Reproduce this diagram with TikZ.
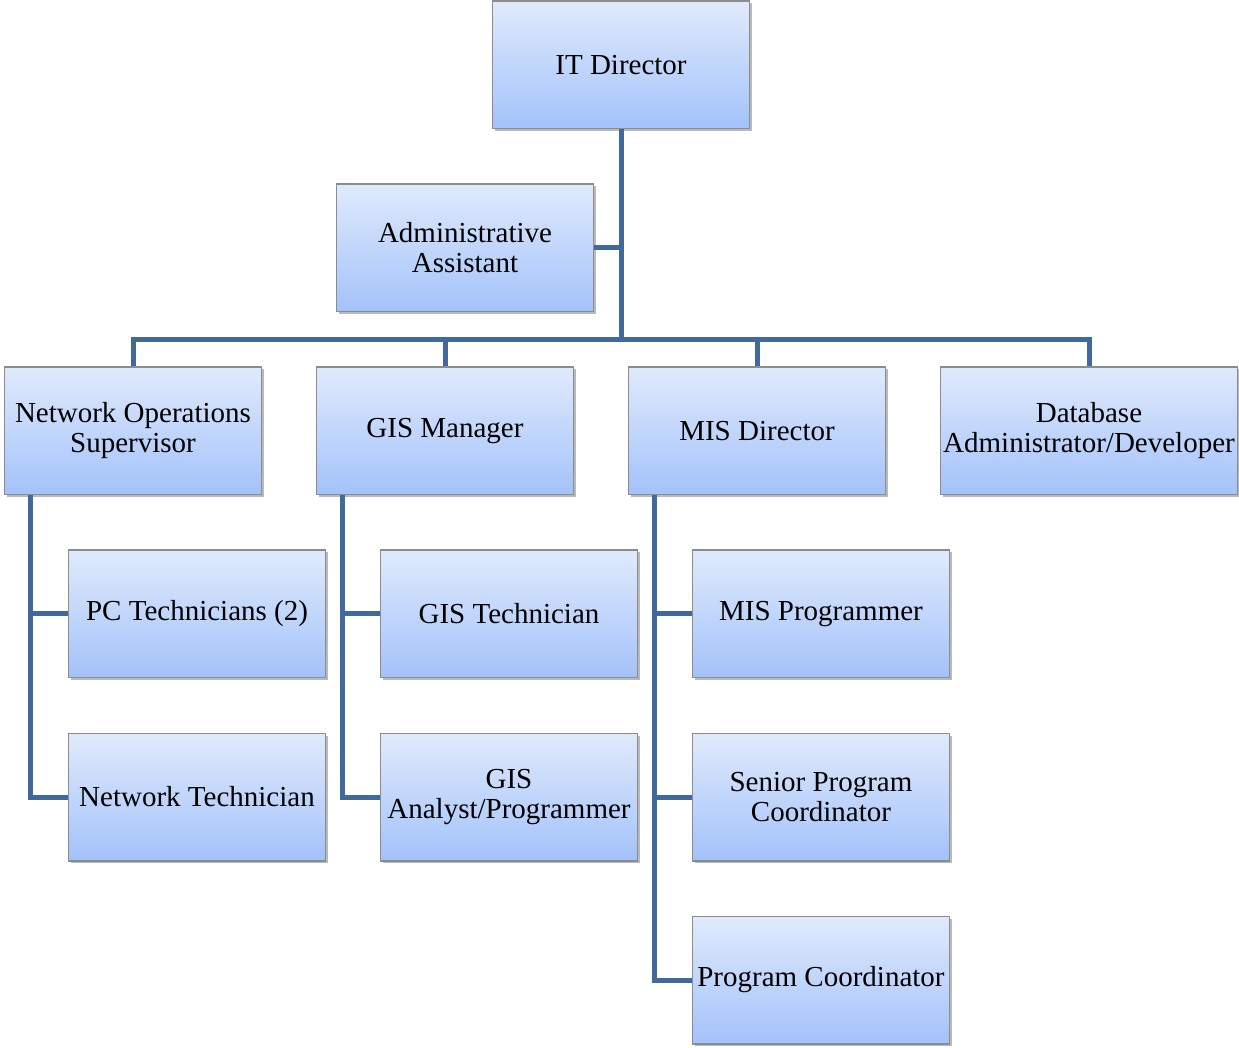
\documentclass[tikz,border=0pt]{standalone}
\usepackage{fontspec}
\setmainfont{Liberation Serif}
\usepackage{tikz}
\usetikzlibrary{positioning,calc,shadows}

\definecolor{boxtop}{HTML}{E0EAFC}
\definecolor{boxbottom}{HTML}{A3C2FA}
\definecolor{boxline}{HTML}{8C8C8C}
\definecolor{linkblue}{HTML}{41699C}

\begin{document}
\begin{tikzpicture}[
  x=0.5pt, y=-0.5pt,
  font=\fontsize{14.5}{15}\selectfont,
  % Styles
  post/.style={draw=boxline,line width=0.6pt,top color=boxtop,bottom color=boxbottom,
    minimum width=128.4pt,minimum height=63.9pt,inner sep=1pt,align=center,
    drop shadow={shadow xshift=1.2pt,shadow yshift=-1.2pt,fill=black!45,opacity=0.6}},
  widepost/.style={post,minimum width=148.4pt},
  link/.style={draw=linkblue,line width=2.5pt},
  ]
\useasboundingbox (0,0) rectangle (1239,1048);

%--- Top of the chart --------------------------------------------
\node[post] (it) at (621,65) {IT Director};
\node[post, below=27pt of it, xshift=-78pt] (admin) {Administrative\\Assistant};

%--- Division heads ----------------------------------------------
\node[post, below=27pt of admin, xshift=-10pt] (gis) {GIS Manager};
\node[post, left=27pt of gis] (nos) {Network Operations\\Supervisor};
\node[post, right=27pt of gis] (mis) {MIS Director};
\node[widepost, right=27pt of mis] (db) {Database\\Administrator/Developer};

%--- Staff under each head ---------------------------------------
\node[post, below=27pt of nos, xshift=32pt] (pctech) {PC Technicians (2)};
\node[post, below=27pt of pctech] (nettech) {Network Technician};

\node[post, below=27pt of gis, xshift=32pt] (gistech) {GIS Technician};
\node[post, below=27pt of gistech] (gisana) {GIS\\Analyst/Programmer};

\node[post, below=27pt of mis, xshift=32pt] (misprog) {MIS Programmer};
\node[post, below=27pt of misprog] (senior) {Senior Program\\Coordinator};
\node[post, below=27pt of senior] (progco) {Program Coordinator};

%--- Connectors --------------------------------------------------
\coordinate (hub) at ($(it.south |- admin.south)!0.5!(it.south |- gis.north)$);

\draw[link] (it.south) -- (hub);
\draw[link] (admin.east) -- (admin.east -| it.south);
\draw[link] (nos.north) |- (hub) -| (db.north);
\draw[link] (gis.north) -- (gis.north |- hub);
\draw[link] (mis.north) -- (mis.north |- hub);

\foreach \boss/\staff in {nos/pctech, nos/nettech, gis/gistech, gis/gisana,
                          mis/misprog, mis/senior, mis/progco}
  \draw[link] ([xshift=13pt]\boss.south west) |- (\staff.west);
\end{tikzpicture}
\end{document}
